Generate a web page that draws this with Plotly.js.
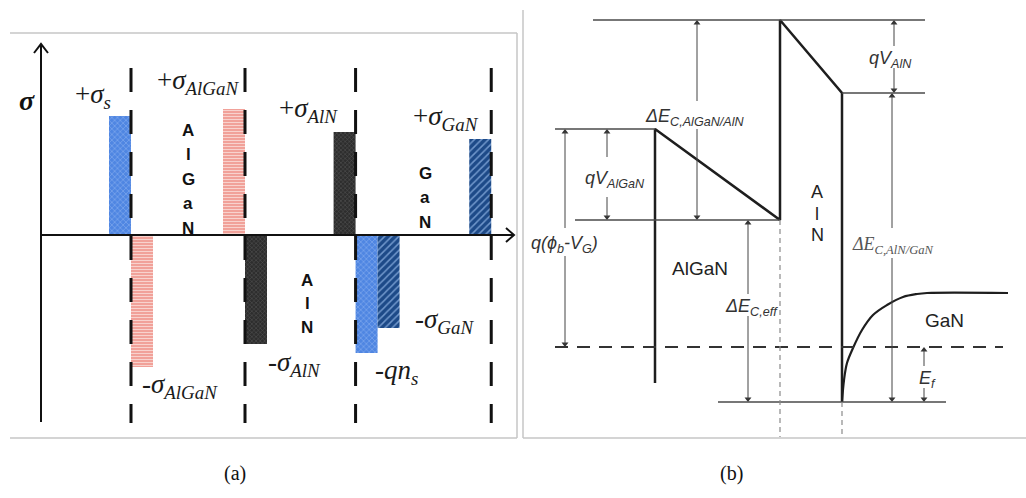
<!DOCTYPE html>
<html><head><meta charset="utf-8">
<script src="https://cdn.plot.ly/plotly-3.0.1.min.js"></script>
<style>html,body{margin:0;padding:0;background:#fff}#chart{width:1026px;height:498px}</style>
</head><body><div id="chart"></div>
<script>
// ================= DATA =================
// ---- Panel (a): polarization sheet charges at the hetero-interfaces (a.u.) ----
const layerNames      = ['AlGaN', 'AlN', 'GaN'];
const interfacePos    = [0, 1, 1.97, 3.16];          // layer boundaries (a.u. of depth)
const chargeLabels    = ['+<i>σ</i><sub><i>s</i></sub>', '-<i>σ</i><sub><i>AlGaN</i></sub>',
                         '+<i>σ</i><sub><i>AlGaN</i></sub>', '-<i>σ</i><sub><i>AlN</i></sub>',
                         '+<i>σ</i><sub><i>AlN</i></sub>', '-<i>qn</i><sub><i>s</i></sub>',
                         '-<i>σ</i><sub><i>GaN</i></sub>', '+<i>σ</i><sub><i>GaN</i></sub>'];
const chargeValues    = [1.19, -1.32, 1.26, -1.09, 1.03, -1.18, -0.93, 0.96];
const chargeInterface = [0, 0, 1, 1, 2, 2, 2, 3];
const chargeKind      = ['ns', 'AlGaN', 'AlGaN', 'AlN', 'AlN', 'ns', 'GaN', 'GaN'];
const chargeSlot      = [-1, 1, -1, 1, -1, 1, 2, -1]; // left / right of interface

// ---- Panel (b): conduction-band profile (distance a.u., energy rel. to E_F a.u.) ----
const bandX = [0, 0, 1.25, 1.25, 1.87, 1.87];
const bandE = [-0.36, 2.18, 1.27, 3.27, 2.54, -0.55];
const ganX  = [1.87, 1.89, 1.92, 1.98, 2.07, 2.18, 2.32, 2.48, 2.62, 2.72, 3.53];
const ganE  = [-0.55, -0.33, -0.16, -0.01, 0.17, 0.32, 0.42, 0.50, 0.53, 0.54, 0.54];
const levelE = {alnTop: 3.27, surface: 2.18, alnGan: 2.54, algAln: 1.27, fermi: 0, well: -0.55};
const arrowLabels = ['<i>ΔE</i><sub><i>C,AlGaN/AlN</i></sub>', '<i>qV</i><sub><i>AlGaN</i></sub>',
                     '<i>q(ϕ</i><sub><i>b</i></sub><i>-V</i><sub><i>G</i></sub><i>)</i>',
                     '<i>ΔE</i><sub><i>C,eff</i></sub>', '<i>qV</i><sub><i>AlN</i></sub>',
                     '<i>ΔE</i><sub><i>C,AlN/GaN</i></sub>', '<i>E</i><sub><i>f</i></sub>'];
const arrowLow  = [levelE.algAln, levelE.algAln, levelE.fermi, levelE.well, levelE.alnGan, levelE.well, levelE.well];
const arrowHigh = [levelE.alnTop, levelE.surface, levelE.surface, levelE.algAln, levelE.alnTop, levelE.alnGan, levelE.fermi];

// ================= LAYOUT HELPERS =================
const W = 1026, H = 498;
const xA = px => (px - 131) / 114, yA = py => (235 - py) / 100;  // panel a mapping
const xB = px => (px - 655) / 100, yB = py => (347 - py) / 100;  // panel b mapping
const dom = (a, b) => [a / W, b / W];
const ydom = [1 - 438 / H, 1 - 10 / H];
const barW = 22 / 114;

const shapes = [], annotations = [], traces = [];
const line = (xr, yr, x0, y0, x1, y1, color, width, dash) =>
  shapes.push({type: 'line', xref: xr, yref: yr, x0, y0, x1, y1, line: {color, width, dash: dash || 'solid'}});
const P = (px) => px / W, Q = (py) => 1 - py / H;

// frames
const frame = '#c6c6c6';
line('paper', 'paper', P(10), Q(33), P(517), Q(33), frame, 1.5);
line('paper', 'paper', P(517), Q(33), P(517), Q(438), frame, 1.5);
line('paper', 'paper', P(10), Q(438), P(517), Q(438), frame, 1.5);
line('paper', 'paper', P(523), Q(10), P(523), Q(438), frame, 1.5);
line('paper', 'paper', P(523), Q(438), P(1026), Q(438), frame, 1.5);

// ---------- Panel (a) ----------
const kindStyle = {
  ns:    {bg: '#4f86e2', fg: '#8db3f1', shape: 'x', size: 4, sol: 0.25},
  AlGaN: {bg: '#f1a199', fg: '#f8d2cd', shape: '-', size: 3, sol: 0.35},
  AlN:   {bg: '#2d2d2d', fg: '#575757', shape: 'x', size: 3, sol: 0.3},
  GaN:   {bg: '#1d4a88', fg: '#7097cb', shape: '/', size: 5, sol: 0.3}
};
const barCenter = chargeValues.map((v, i) =>
  interfacePos[chargeInterface[i]] + (chargeSlot[i] < 0 ? -0.5 : chargeSlot[i] - 0.5) * barW);
Object.keys(kindStyle).forEach(k => {
  const idx = chargeKind.map((c, i) => c === k ? i : -1).filter(i => i >= 0);
  const s = kindStyle[k];
  traces.push({type: 'bar', xaxis: 'x', yaxis: 'y', x: idx.map(i => barCenter[i]),
    y: idx.map(i => chargeValues[i]), width: idx.map(() => barW), hoverinfo: 'skip',
    marker: {color: s.bg, line: {width: 0},
      pattern: {shape: s.shape, fgcolor: s.fg, bgcolor: s.bg, size: s.size, solidity: s.sol}}});
});
// charge labels (pixel offsets from bar end)
const labShift = [[-27, 20], [38, -19], [-36, 27], [38, -20], [-36, 22], [30, -19], [56, 7], [-34, 21]];
chargeValues.forEach((v, i) => annotations.push({xref: 'x', yref: 'y', x: barCenter[i], y: v,
  text: chargeLabels[i], showarrow: false, xanchor: 'center', yanchor: 'middle',
  xshift: labShift[i][0], yshift: labShift[i][1],
  font: {family: 'Liberation Serif', size: 27, color: '#1a1a1a'}}));

// interface dashed lines
interfacePos.forEach(p => line('x', 'y', p, yA(68), p, yA(423), '#111', 3, '24px,18px'));
// axes with arrows
line('x', 'y', xA(41), yA(422), xA(41), yA(45), '#111', 2);
line('x', 'y', xA(41), 0, xA(513), 0, '#111', 2);
traces.push({type: 'scatter', mode: 'lines', xaxis: 'x', yaxis: 'y', hoverinfo: 'skip',
  x: [xA(34), xA(41), xA(48)], y: [yA(53), yA(44), yA(53)], line: {color: '#111', width: 2}});
traces.push({type: 'scatter', mode: 'lines', xaxis: 'x', yaxis: 'y', hoverinfo: 'skip',
  x: [xA(506), xA(514), xA(506)], y: [yA(228), yA(235), yA(242)], line: {color: '#111', width: 2}});
annotations.push({xref: 'x', yref: 'y', x: xA(27), y: yA(100), text: '<b><i>σ</i></b>', showarrow: false,
  font: {family: 'Liberation Serif', size: 28, color: '#111'}});
// vertical layer names
const layerShiftPx = [0, 7, 2];
const layerStartPy = [130, 280, 173];
const layerStep = [24.5, 23.5, 24.5];
layerNames.forEach((name, L) => {
  const xm = (interfacePos[L] + interfacePos[L + 1]) / 2 + layerShiftPx[L] / 114;
  name.split('').forEach((ch, j) => annotations.push({xref: 'x', yref: 'y', x: xm,
    y: yA(layerStartPy[L] + j * layerStep[L]), text: '<b>' + ch + '</b>', showarrow: false,
    font: {family: 'Liberation Sans', size: 17, color: '#111'}}));
});

// ---------- Panel (b) ----------
const thin = '#4a4a4a';
line('x2', 'y2', xB(593), levelE.alnTop, xB(925), levelE.alnTop, thin, 1.3);
line('x2', 'y2', xB(555), levelE.surface, 0, levelE.surface, thin, 1.3);
line('x2', 'y2', xB(575), levelE.algAln, bandX[2], levelE.algAln, thin, 1.3);
line('x2', 'y2', bandX[4], levelE.alnGan, xB(925), levelE.alnGan, thin, 1.3);
line('x2', 'y2', xB(718), levelE.well, xB(946), levelE.well, thin, 1.3);
line('x2', 'y2', xB(555), levelE.fermi, xB(1003), levelE.fermi, '#333', 2, '13px,9px');
line('x2', 'y2', bandX[2], levelE.algAln, bandX[2], yB(437), '#8a8a8a', 1.2, '5px,4px');
line('x2', 'y2', bandX[4], levelE.well, bandX[4], yB(434), '#8a8a8a', 1.2, '5px,4px');

traces.push({type: 'scatter', mode: 'lines', xaxis: 'x2', yaxis: 'y2', hoverinfo: 'skip',
  x: bandX, y: bandE, line: {color: '#1e1e1e', width: 2.5}});
traces.push({type: 'scatter', mode: 'lines', xaxis: 'x2', yaxis: 'y2', hoverinfo: 'skip',
  x: ganX, y: ganE, line: {color: '#1e1e1e', width: 2.2, shape: 'spline', smoothing: 1}});

// dimension arrows: shaft lines (shapes) + triangle heads (markers)
const arrowXpx = [697, 607, 565, 748, 894, 892, 924];
const labelPy  = [115, 177, 242, 305, 57, 243, 377];
const gapPx    = [14, 20, 14, 11, 11, 15, 11];
const labXShift = [-3, 8, -1, 3, -4, 1, 3];
const headUp = {x: [], y: []}, headDn = {x: [], y: []};
const headOff = 3 / 100;
arrowLabels.forEach((t, i) => {
  const X = xB(arrowXpx[i]), c = yB(labelPy[i]), g = gapPx[i] / 100;
  line('x2', 'y2', X, c + g, X, arrowHigh[i] - headOff, '#444', 1);
  line('x2', 'y2', X, c - g, X, arrowLow[i] + headOff, '#444', 1);
  headUp.x.push(X); headUp.y.push(arrowHigh[i] - headOff);
  headDn.x.push(X); headDn.y.push(arrowLow[i] + headOff);
  const serif = i === 5;
  annotations.push({xref: 'x2', yref: 'y2', x: X, y: c, text: t, showarrow: false,
    xshift: labXShift[i], yshift: -2,
    font: {family: serif ? 'Liberation Serif' : 'Liberation Sans', size: 18,
           color: serif ? '#555' : '#333'}});
});
traces.push({type: 'scatter', mode: 'markers', xaxis: 'x2', yaxis: 'y2', hoverinfo: 'skip',
  x: headUp.x, y: headUp.y, marker: {symbol: 'triangle-up', size: 6, color: '#333', line: {width: 0}}});
traces.push({type: 'scatter', mode: 'markers', xaxis: 'x2', yaxis: 'y2', hoverinfo: 'skip',
  x: headDn.x, y: headDn.y, marker: {symbol: 'triangle-down', size: 6, color: '#333', line: {width: 0}}});

// region names
annotations.push({xref: 'x2', yref: 'y2', x: xB(700), y: yB(268), text: 'AlGaN', showarrow: false,
  font: {family: 'Liberation Sans', size: 19, color: '#222'}});
annotations.push({xref: 'x2', yref: 'y2', x: xB(944), y: yB(320), text: 'GaN', showarrow: false,
  font: {family: 'Liberation Sans', size: 19, color: '#222'}});
'AlN'.split('').forEach((ch, j) => annotations.push({xref: 'x2', yref: 'y2', x: xB(817),
  y: yB(192 + j * 21.5), text: ch, showarrow: false,
  font: {family: 'Liberation Sans', size: 18, color: '#222'}}));

// captions
annotations.push({xref: 'paper', yref: 'paper', x: P(222), y: Q(487), text: '(a)', showarrow: false,
  font: {family: 'Liberation Serif', size: 20, color: '#111'}});
annotations.push({xref: 'paper', yref: 'paper', x: P(745), y: Q(487), text: '(b)', showarrow: false,
  font: {family: 'Liberation Serif', size: 20, color: '#111'}});

const hid = {visible: false, fixedrange: true};
const layout = {
  width: W, height: H, margin: {l: 0, r: 0, t: 0, b: 0}, showlegend: false,
  paper_bgcolor: '#fff', plot_bgcolor: 'rgba(0,0,0,0)', barmode: 'overlay',
  xaxis:  Object.assign({domain: dom(10, 517), range: [xA(10), xA(517)]}, hid),
  yaxis:  Object.assign({domain: ydom, range: [yA(438), yA(10)]}, hid),
  xaxis2: Object.assign({domain: dom(523, 1026), range: [xB(523), xB(1026)], anchor: 'y2'}, hid),
  yaxis2: Object.assign({domain: ydom, range: [yB(438), yB(10)], anchor: 'x2'}, hid),
  shapes, annotations
};
Plotly.newPlot('chart', traces, layout, {staticPlot: true, displayModeBar: false});
</script></body></html>
